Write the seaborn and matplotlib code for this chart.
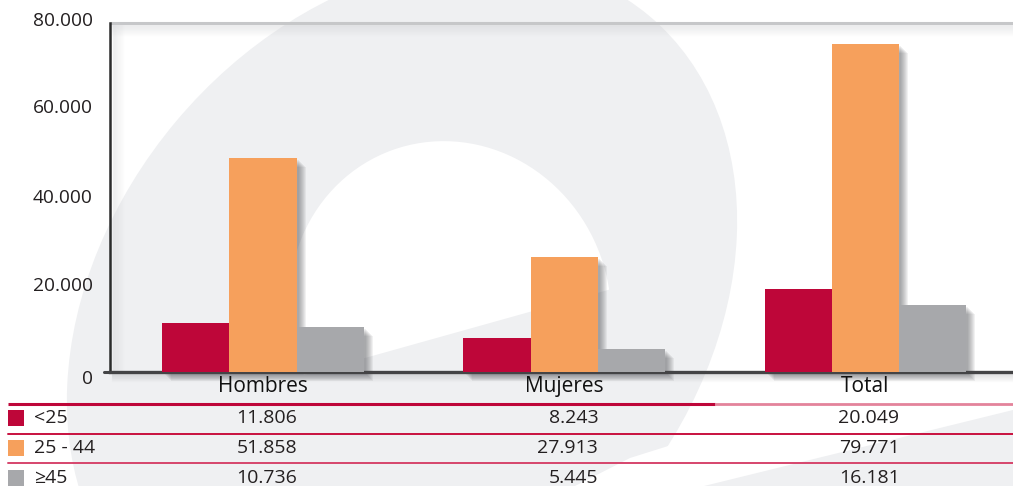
import numpy as np
import pandas as pd
import matplotlib
matplotlib.use('Agg')
import matplotlib.pyplot as plt
import matplotlib.transforms as mtransforms
from matplotlib.patches import Ellipse, Polygon, Rectangle
import seaborn as sns

# datos
grupos = ['Hombres', 'Mujeres', 'Total']
edades = ['<25', '25 - 44', '≥45']
menores_25 = [11806, 8243, 20049]
de_25_44 = [51858, 27913, 79771]
mayores_45 = [10736, 5445, 16181]
etiquetas_y = ['0', '20.000', '40.000', '60.000', '80.000']
colores = ['#BE0639', '#F6A05C', '#A7A8AB']


def fmt(v):
    return f'{v:,}'.replace(',', '.')


df = pd.DataFrame({'grupo': grupos * 3,
                   'edad': np.repeat(edades, 3),
                   'valor': menores_25 + de_25_44 + mayores_45})

sns.set_style('white')
plt.rcParams['font.family'] = ['Open Sans', 'DejaVu Sans']

fig = plt.figure(figsize=(10.13, 4.86), dpi=100)
fig.patch.set_facecolor('white')

# fondo (marca de agua) en coordenadas de pixel
bg = fig.add_axes([0, 0, 1, 1], zorder=0)
bg.set_xlim(0, 1013)
bg.set_ylim(486, 0)
bg.axis('off')
gris_fondo = '#EFF0F2'
bg.add_patch(Ellipse((402, 311), 2 * 385, 2 * 295, angle=-50, color=gris_fondo, lw=0))
corte = Polygon([(0, -100), (1013, -100), (1013, 337 - 0.28 * (1013 - 440)),
                 (0, 337 + 0.28 * 440)], transform=bg.transData)
hueco = Ellipse((450, 310), 320, 340, angle=-20, color='white', lw=0)
bg.add_patch(hueco)
hueco.set_clip_path(corte)
bg.add_patch(Polygon([(575, 486), (630, 458), (700, 436), (780, 418), (1013, 368),
                      (1013, 410), (700, 487)], color='white', lw=0))
bg.add_patch(Polygon([(700, 487), (1013, 410), (1013, 486)], color=gris_fondo, lw=0))

# sombras del marco
bg.plot([110, 1013], [23.5, 23.5], color='#C6C7C9', lw=2.2, solid_capstyle='butt')
for k in range(1, 12):
    bg.plot([112, 1013], [24.5 + k, 24.5 + k], color='#CFD0D3', alpha=0.35 * (1 - k / 12), lw=1)
    bg.plot([111.5 + k, 111.5 + k], [25, 372], color='#CFD0D3', alpha=0.3 * (1 - k / 12), lw=1)
for k in range(1, 9):
    bg.plot([112, 1013], [372.5 + k, 372.5 + k], color='#9A9B9F', alpha=0.25 * (1 - k / 9), lw=1)
bg.plot([104, 111], [371.5, 371.5], color='#444446', lw=2.2)

ax = fig.add_axes([110 / 1013, 114.5 / 486, 903 / 1013, 348.5 / 486], zorder=1)
ax.patch.set_alpha(0)
sns.barplot(data=df, x='grupo', y='valor', hue='edad', palette=colores, width=0.67,
            gap=0, saturation=1, legend=False, errorbar=None, ax=ax, zorder=3, lw=0)
ax.set_xlim(-0.508, 2.49)
ax.set_ylim(0, 84800)

# sombra de las barras
for p in list(ax.patches):
    for k in range(2, 10):
        off = mtransforms.ScaledTranslation(k / 100, -k / 100, fig.dpi_scale_trans)
        ax.add_patch(Rectangle(p.get_xy(), p.get_width(), p.get_height(),
                               transform=ax.transData + off, color='#4A4B50',
                               alpha=0.075, lw=0, zorder=2, clip_on=False))

sns.despine(ax=ax)
ax.spines['left'].set_color('#2B2B2B')
ax.spines['left'].set_linewidth(1.8)
ax.spines['bottom'].set_color('#444446')
ax.spines['bottom'].set_linewidth(2.4)
ax.set_yticks([0, 20000, 40000, 60000, 80000, 84800])
ax.set_yticklabels([])
ax.tick_params(axis='y', length=5, width=1.4, color='#2B2B2B', direction='out')
ax.set_xticks([])
ax.set_xlabel('')
ax.set_ylabel('')

# etiquetas del eje y (posiciones como en el original)
pos_etiquetas = [-1900, 20700, 42100, 64000, 85300]
trans_y = mtransforms.blended_transform_factory(ax.transAxes, ax.transData)
for v, t in zip(pos_etiquetas, etiquetas_y):
    ax.text(-0.019, v, t, transform=trans_y, ha='right', va='center',
            fontsize=13.8, color='#231F20', clip_on=False)

# categorias y tabla
trans_x = mtransforms.blended_transform_factory(ax.transData, bg.transData)
for i, g in enumerate(grupos):
    ax.text(i, 386, g, transform=trans_x, ha='center', va='center',
            fontsize=15, color='#111111', clip_on=False)

bg.plot([8, 715], [404, 404], color='#BE0639', lw=2.2, solid_capstyle='butt')
bg.plot([715, 1013], [404, 404], color='#E3839B', lw=2, solid_capstyle='butt')
bg.plot([8, 1013], [433.5, 433.5], color='#C8103F', lw=1.4)
bg.plot([8, 1013], [463, 463], color='#D6456C', lw=1.4)

filas_y = [418, 448, 478]
for y, e, c, vals in zip(filas_y, edades, colores, [menores_25, de_25_44, mayores_45]):
    bg.add_patch(Rectangle((8, y - 8), 16, 16, color=c, lw=0))
    bg.text(34, y, e, ha='left', va='center', fontsize=14, color='#231F20')
    for i, v in enumerate(vals):
        ax.text(i + 0.113, y, fmt(v), transform=trans_x, ha='right', va='center',
                fontsize=14, color='#231F20', clip_on=False)

fig.savefig('out.png', dpi=100, facecolor='white')
